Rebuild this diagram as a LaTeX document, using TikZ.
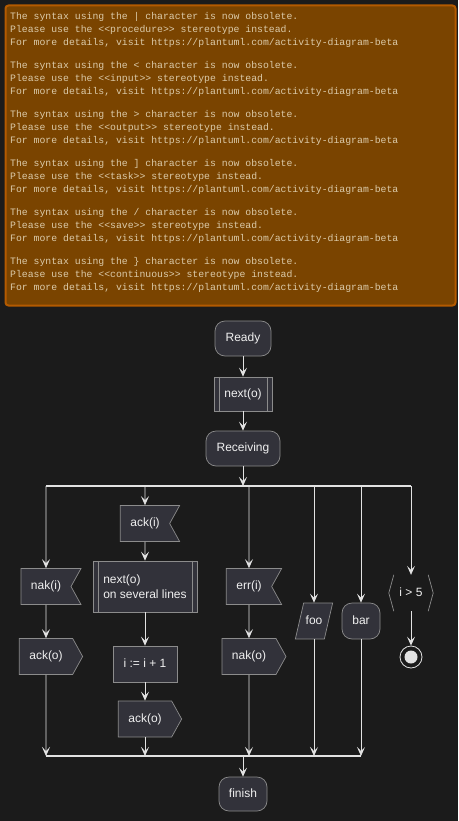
\documentclass[tikz,border=0pt]{standalone}
\usepackage{fontspec}
\setmainfont{Liberation Sans}
\setmonofont{Liberation Mono}
\usetikzlibrary{arrows.meta,shapes.symbols,shapes.geometric}
\definecolor{bgcol}{HTML}{1B1B1B}
\definecolor{boxfill}{HTML}{32323A}
\definecolor{boxline}{HTML}{8C8C8C}
\definecolor{boxtext}{HTML}{F0F0F0}
\definecolor{flowline}{HTML}{E2E2E2}
\definecolor{notefill}{HTML}{7A4400}
\definecolor{noteline}{HTML}{B35A00}
\definecolor{notetext}{HTML}{DCCBAA}

\begin{document}
\begin{tikzpicture}[x=1pt, y=-1pt, >={Stealth[length=9pt, width=8pt, inset=4pt]},
  box/.style={draw=boxline, fill=boxfill, text=boxtext, line width=0.7pt, inner sep=0pt, text height=9pt, text depth=3pt, font=\fontsize{12pt}{15pt}\selectfont},
  roundbox/.style={box, rectangle, rounded corners=10pt, minimum height=35pt},
  taskbox/.style={box, rectangle, minimum height=36pt},
  procbox/.style={box, rectangle, minimum height=34pt},
  sendbox/.style={box, signal, signal to=east, signal pointer angle=122, inner xsep=10pt, inner ysep=12pt},
  recvbox/.style={sendbox, signal to=nowhere, signal from=east},
  savebox/.style={box, trapezium, trapezium left angle=77, trapezium right angle=103, inner xsep=2pt, inner ysep=12pt},
  condbox/.style={rectangle, text=boxtext, inner sep=0pt, text height=9pt, text depth=3pt, minimum width=44pt, minimum height=36pt, font=\fontsize{12pt}{15pt}\selectfont},
  stopring/.style={circle, draw=flowline, fill=bgcol, line width=0.8pt, minimum size=22pt, inner sep=0pt, path picture={\fill[flowline] (path picture bounding box.center) circle (6.5pt);}},
  notebox/.style={draw=noteline, fill=notefill, line width=2pt, rounded corners=3pt, anchor=north west},
  notetext/.style={text=notetext, align=left, inner sep=0pt, anchor=west, font=\ttfamily\fontsize{9.8pt}{13pt}\selectfont},
  flow/.style={draw=flowline, line width=0.8pt},
  splitbar/.style={draw=flowline, line width=1.6pt}]
  \useasboundingbox (0,0) rectangle (458,821);
  \fill[bgcol] (0,0) rectangle (458,821);

  % warning note
  \node[notebox, minimum width=450pt, minimum height=300pt] (note) at (4.5,4.5) {};
  \foreach \ch/\st [count=\i from 0] in {{|}/procedure, {<}/input, {>}/output, {]}/task, {/}/save, {\}}/continuous}
    \node[notetext] (msg\i) at (10,30+49*\i) {The syntax using the \ch{} character is now obsolete.\\Please use the <{}<\st>{}> stereotype instead.\\For more details, visit https://plantuml.com/activity-diagram-beta};

  % trunk
  \node[roundbox, minimum width=56pt] (ready) at (243,338.5) {Ready};
  \node[procbox, minimum width=58pt] (nexto) at (243,394) {next(o)};
  \node[roundbox, minimum width=74pt] (receiving) at (243,448.5) {Receiving};

  \coordinate (f1) at (46,486);
  \coordinate (f2) at (145,486);
  \coordinate (f3) at (249,486);
  \coordinate (f4) at (314,486);
  \coordinate (f5) at (361,486);
  \coordinate (f6) at (411,486);
  \coordinate (j1) at (46,756);
  \coordinate (j2) at (145,756);
  \coordinate (j3) at (249,756);
  \coordinate (j4) at (314,756);
  \coordinate (j5) at (361,756);

  % branches
  \node[recvbox] (naki) at (46,586.5) {nak(i)};
  \node[sendbox] (ackoA) at (46,656.5) {ack(o)};
  \node[recvbox] (acki) at (145,523.5) {ack(i)};
  \node[procbox, minimum width=104pt, minimum height=51pt, align=left, text height=, text depth=] (nextlines) at (145,586.5) {next(o)\\on several lines};
  \node[taskbox, minimum width=64pt] (incr) at (145,664) {i := i + 1};
  \node[sendbox] (ackoB) at (145,719) {ack(o)};
  \node[recvbox] (erri) at (249,586.5) {err(i)};
  \node[sendbox] (nako) at (249,656.5) {nak(o)};
  \node[savebox] (foo) at (314,621) {foo};
  \node[roundbox, minimum width=38pt, minimum height=36pt] (bar) at (361,621) {bar};
  \node[condbox] (cond) at (411,593) {i > 5};
  \node[stopring] (stop) at (411,657) {};
  \node[roundbox, minimum width=48pt, minimum height=34pt] (finish) at (243,794) {finish};

  \foreach \n in {nexto,nextlines}
    \draw[boxline, line width=0.7pt] ([xshift=6pt]\n.north west) -- ([xshift=6pt]\n.south west) ([xshift=-5pt]\n.north east) -- ([xshift=-5pt]\n.south east);
  \draw[boxline, line width=0.7pt] ([xshift=5pt]cond.north west) -- (cond.west) -- ([xshift=5pt]cond.south west);
  \draw[boxline, line width=0.7pt] ([xshift=-5pt]cond.north east) -- (cond.east) -- ([xshift=-5pt]cond.south east);

  % connectors
  \draw[flow, ->] (ready) -- (nexto);
  \draw[flow, ->] (nexto) -- (receiving);
  \draw[flow, ->] (receiving) -- (receiving |- f1);
  \draw[splitbar] (f1) -- (f6);
  \draw[flow, ->] (f1) -- (naki);
  \draw[flow, ->] (naki) -- (ackoA);
  \draw[flow, ->] (ackoA) -- (j1);
  \draw[flow, ->] (f2) -- (acki);
  \draw[flow, ->] (acki) -- (nextlines);
  \draw[flow, ->] (nextlines) -- (incr);
  \draw[flow, ->] (incr) -- (ackoB);
  \draw[flow, ->] (ackoB) -- (j2);
  \draw[flow, ->] (f3) -- (erri);
  \draw[flow, ->] (erri) -- (nako);
  \draw[flow, ->] (nako) -- (j3);
  \draw[flow, ->] (f4) -- (foo);
  \draw[flow, ->] (foo) -- (j4);
  \draw[flow, ->] (f5) -- (bar);
  \draw[flow, ->] (bar) -- (j5);
  \draw[flow, ->] (f6) -- (cond);
  \draw[flow, ->] (cond) -- (stop);
  \draw[splitbar] (j1) -- (j5);
  \draw[flow, ->] (finish |- j1) -- (finish);
\end{tikzpicture}
\end{document}
